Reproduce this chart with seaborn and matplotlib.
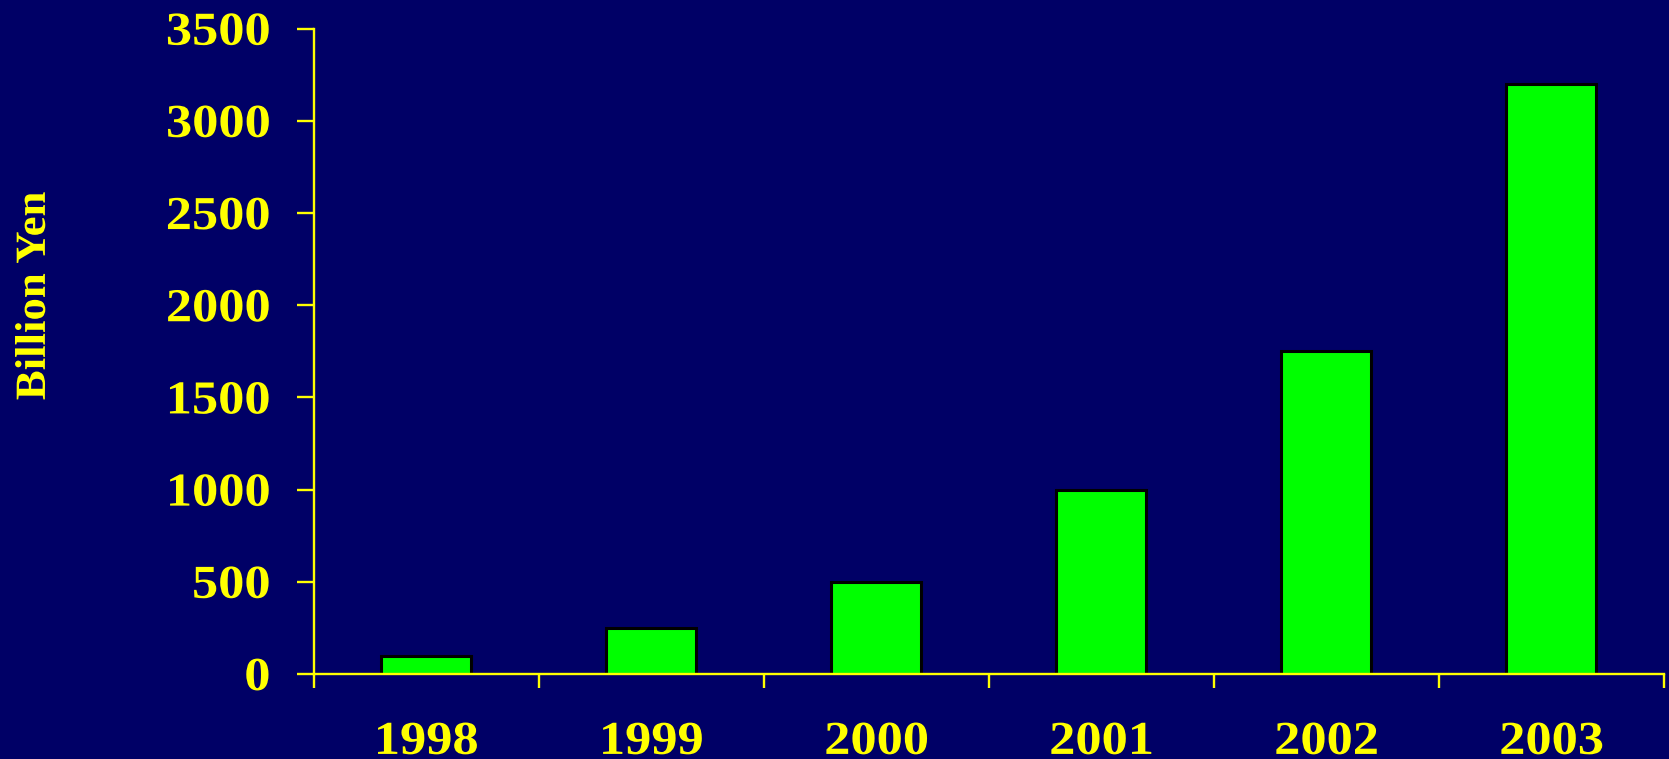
import matplotlib
matplotlib.use("Agg")
import matplotlib.pyplot as plt
import seaborn as sns
import pandas as pd
import numpy as np
from matplotlib.patheffects import AbstractPathEffect
from matplotlib.transforms import Affine2D

# Annual amounts, billion yen
years = ["1998", "1999", "2000", "2001", "2002", "2003"]
amounts = [100, 250, 500, 1000, 1750, 3200]
y_ticks = [0, 500, 1000, 1500, 2000, 2500, 3000, 3500]

BG = "#000066"
YELLOW = "#FFFF00"
GREEN = "#00FF00"


class WideText(AbstractPathEffect):
    """Widen glyphs along the text direction about a chosen anchor."""

    def __init__(self, sx, anchor="left"):
        super().__init__()
        self.sx = sx
        self.anchor = anchor

    def draw_path(self, renderer, gc, tpath, affine, rgbFace=None):
        ext = tpath.get_extents()
        if self.anchor == "right":
            a = ext.x1
        elif self.anchor == "center":
            a = 0.5 * (ext.x0 + ext.x1)
        else:
            a = ext.x0
        pre = Affine2D().translate(-a, 0).scale(self.sx, 1).translate(a, 0)
        renderer.draw_path(gc, tpath, pre + affine, rgbFace)


sns.set_style("white")
plt.rcParams["font.family"] = ["Liberation Serif", "DejaVu Serif"]
plt.rcParams["font.weight"] = "bold"

df = pd.DataFrame({"year": years, "amount": amounts})

fig = plt.figure(figsize=(16.69, 7.59), dpi=100, facecolor=BG)
ax = fig.add_axes([0.1881, 0.1120, 0.8089, 0.8502])
ax.set_facecolor(BG)

sns.barplot(data=df, x="year", y="amount", color=GREEN, width=0.4,
            edgecolor="black", linewidth=2.2, saturation=1, ax=ax)

ax.set_xlim(-0.5, len(years) - 0.5)
ax.set_ylim(0, 3500)
ax.set_yticks(y_ticks)
ax.set_yticklabels([str(t) for t in y_ticks])

for side in ("top", "right"):
    ax.spines[side].set_visible(False)
for side in ("left", "bottom"):
    ax.spines[side].set_color(YELLOW)
    ax.spines[side].set_linewidth(1.7)

# Year labels under the bars, tick marks at the category boundaries
ax.set_xticks(np.arange(len(years)))
ax.set_xticklabels(years)
ax.set_xticks(np.arange(-0.5, len(years), 1.0), minor=True)
ax.tick_params(axis="x", which="major", length=0, pad=34.5,
               labelsize=34, labelcolor=YELLOW)
ax.tick_params(axis="x", which="minor", direction="out", length=10,
               width=1.7, color=YELLOW, bottom=True)
ax.tick_params(axis="y", which="major", direction="out", length=12.5,
               width=1.7, color=YELLOW, pad=19, labelsize=34,
               labelcolor=YELLOW, left=True)
for lbl in ax.get_xticklabels():
    lbl.set_fontweight("bold")
    lbl.set_path_effects([WideText(1.11, "center")])
for lbl in ax.get_yticklabels():
    lbl.set_fontweight("bold")
    lbl.set_path_effects([WideText(1.11, "right")])

ax.set_xlabel("")
ax.set_ylabel("Billion Yen", color=YELLOW, fontsize=31, fontweight="bold")
ax.yaxis.label.set_verticalalignment("center")
ax.yaxis.label.set_horizontalalignment("center")
ax.yaxis.label.set_path_effects([WideText(1.04, "center")])
ax.yaxis.set_label_coords(-0.2067, 0.586)

fig.savefig("out.png", dpi=100, facecolor=BG)
